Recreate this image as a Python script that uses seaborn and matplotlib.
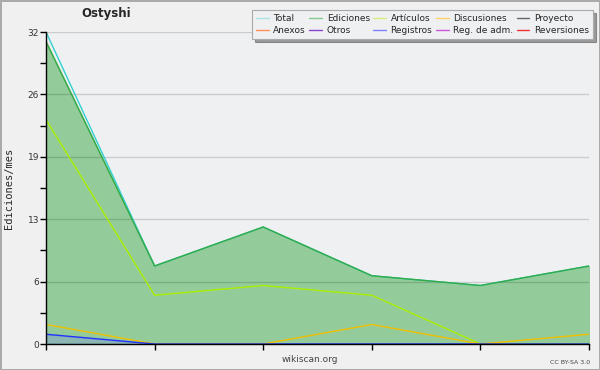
import numpy as np
import pandas as pd
import matplotlib
matplotlib.use("Agg")
import matplotlib.pyplot as plt
from matplotlib.lines import Line2D
import seaborn as sns

# monthly points (six samples, no x labels in the original)
months = [0, 1, 2, 3, 4, 5]
total = [32, 8, 12, 7, 6, 8]
ediciones = [31, 8, 12, 7, 6, 8]
articulos = [23, 5, 6, 5, 0, 0]
discusiones = [2, 0, 0, 2, 0, 1]
registros = [1, 0, 0, 0, 0, 0]

y_ticks = [0, 6.4, 12.8, 19.2, 25.6, 32]
y_tick_labels = ["0", "6", "13", "19", "26", "32"]

legend_names = ["Total", "Ediciones", "Artículos", "Discusiones", "Proyecto",
                "Anexos", "Otros", "Registros", "Reg. de adm.", "Reversiones"]
legend_colors = ["#a8e4e4", "#88c888", "#d4ee77", "#ffd066", "#666666",
                 "#ff8c55", "#8844cc", "#8080ff", "#cc55dd", "#ee3333"]

df = pd.DataFrame({"month": months, "total": total, "ediciones": ediciones,
                   "articulos": articulos, "discusiones": discusiones,
                   "registros": registros})

sns.set_style("white", {"axes.facecolor": "#eff0f2"})
plt.rcParams['font.family'] = ['DejaVu Sans']

fig = plt.figure(figsize=(6, 3.7), dpi=100, facecolor="#f0f0f0")
fig.patch.set_edgecolor("#aaaaaa")
fig.patch.set_linewidth(2)
ax = fig.add_axes([46 / 600, 1 - 344 / 370, 543 / 600, 312 / 370])

# area fills
ax.fill_between(df["month"], df["ediciones"], color="#93cc9a", zorder=1)
ax.fill_between(df["month"], df["registros"], color="#7777ff", alpha=0.25, zorder=1)

sns.lineplot(data=df, x="month", y="total", color="#33d0d0", lw=1, ax=ax, zorder=3)
sns.lineplot(data=df, x="month", y="ediciones", color="#33aa44", lw=1, ax=ax, zorder=3)
sns.lineplot(data=df, x="month", y="articulos", color="#aaee00", lw=1, ax=ax, zorder=3)
sns.lineplot(data=df, x="month", y="discusiones", color="#f0c000", lw=1, ax=ax, zorder=3)
sns.lineplot(data=df, x="month", y="registros", color="#2233ff", lw=1, ax=ax, zorder=3)

ax.set_xlim(0, 5)
ax.set_ylim(0, 32)
ax.set_xticks(months)
ax.set_xticklabels([])
ax.set_yticks(y_ticks)
ax.set_yticklabels(y_tick_labels, fontsize=6.5, color="#333333")
ax.set_yticks([3.2, 9.6, 16, 22.4, 28.8], minor=True)
ax.tick_params(axis="both", which="both", length=4, width=1, color="black",
               direction="out", left=True, bottom=True, pad=1)
ax.grid(axis="y", which="major", color="black", alpha=0.15, lw=1, zorder=2)
ax.set_axisbelow(False)
ax.set_xlabel("")
ax.set_ylabel("Ediciones/mes", family="DejaVu Sans Mono", fontsize=7.5, labelpad=10)
for side in ["top", "right"]:
    ax.spines[side].set_visible(False)
for side in ["left", "bottom"]:
    ax.spines[side].set_color("black")
    ax.spines[side].set_linewidth(1)
    ax.spines[side].set_zorder(4)

fig.text(106 / 600, 1 - 14 / 370, "Ostyshi", fontsize=8.5, fontweight="bold",
         ha="center", va="center")
fig.text(310 / 600, 1 - 360 / 370, "wikiscan.org", fontsize=6.5, color="#444444",
         ha="center", va="center")
fig.text(590 / 600, 1 - 362 / 370, "CC BY-SA 3.0", fontsize=4.5, color="#444444",
         ha="right", va="center")

# legend fills column by column, so interleave the two rows
order = [0, 5, 1, 6, 2, 7, 3, 8, 4, 9]
handles = [Line2D([], [], color=legend_colors[i], lw=1) for i in order]
labels = [legend_names[i] for i in order]
leg = fig.legend(handles, labels, ncol=5, loc="upper right",
                 bbox_to_anchor=(593 / 600, 1 - 10 / 370), fontsize=6.5,
                 frameon=True, shadow=True, fancybox=False, handlelength=1.4,
                 handletextpad=0.5, columnspacing=0.4, labelspacing=0.3,
                 borderpad=0.45, borderaxespad=0)
leg.get_frame().set_edgecolor("#aaaaaa")
leg.get_frame().set_linewidth(0.8)

fig.savefig("out.png", dpi=100, facecolor=fig.get_facecolor(),
            edgecolor=fig.patch.get_edgecolor())
